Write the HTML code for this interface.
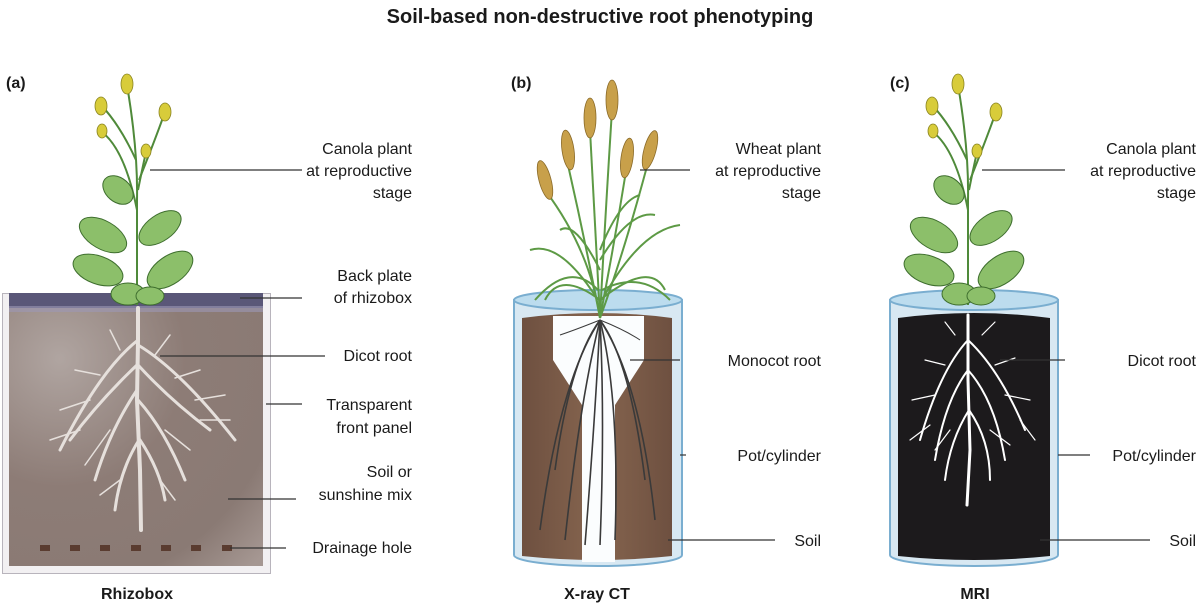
<!DOCTYPE html>
<html><head><meta charset="utf-8"><style>
body{margin:0;background:#fff;}
svg{display:block;font-family:"Liberation Sans",Arial,sans-serif;}
.t{font-size:16px;fill:#1a1a1a;text-anchor:end;}
.b{font-size:16px;font-weight:bold;fill:#1a1a1a;text-anchor:middle;}
.l{stroke:#333;stroke-width:1.2;fill:none;}
</style></head><body>
<svg width="1200" height="606" viewBox="0 0 1200 606">
<defs>
<radialGradient id="soilA" cx="0.2" cy="0.2" r="1.1">
  <stop offset="0" stop-color="#b0a5a1"/><stop offset="0.45" stop-color="#8d7c76"/><stop offset="0.8" stop-color="#8a7a74"/><stop offset="1" stop-color="#a59792"/>
</radialGradient>
<linearGradient id="soilB" x1="0" x2="1">
  <stop offset="0" stop-color="#6e5040"/><stop offset="0.5" stop-color="#86654f"/><stop offset="1" stop-color="#6e5040"/>
</linearGradient>
<g id="canola">
  <g stroke="#4f8a3a" stroke-width="2" fill="none">
    <path d="M137 305 L137 200 Q138 150 127 85"/>
    <path d="M137 210 Q125 150 102 132"/>
    <path d="M136 160 Q120 125 101 105"/>
    <path d="M139 180 Q155 140 165 112"/>
    <path d="M138 190 Q142 170 146 152"/>
  </g>
  <g fill="#8cbf6a" stroke="#3e6e2e" stroke-width="1">
    <ellipse cx="118" cy="190" rx="17" ry="12" transform="rotate(40 118 190)"/>
    <ellipse cx="103" cy="235" rx="26" ry="14" transform="rotate(30 103 235)"/>
    <ellipse cx="160" cy="228" rx="24" ry="13" transform="rotate(-35 160 228)"/>
    <ellipse cx="98" cy="270" rx="26" ry="14" transform="rotate(20 98 270)"/>
    <ellipse cx="170" cy="270" rx="26" ry="14" transform="rotate(-35 170 270)"/>
    <ellipse cx="128" cy="294" rx="17" ry="11"/>
    <ellipse cx="150" cy="296" rx="14" ry="9"/>
  </g>
  <g fill="#d8cc3a" stroke="#8a8420" stroke-width="0.8">
    <ellipse cx="127" cy="84" rx="6" ry="10"/>
    <ellipse cx="101" cy="106" rx="6" ry="9"/>
    <ellipse cx="165" cy="112" rx="6" ry="9"/>
    <ellipse cx="102" cy="131" rx="5" ry="7"/>
    <ellipse cx="146" cy="151" rx="5" ry="7"/>
  </g>
</g>
</defs>

<text x="600" y="23" class="b" style="font-size:20px">Soil-based non-destructive root phenotyping</text>
<text x="6" y="88" font-size="16" font-weight="bold" fill="#1a1a1a">(a)</text>
<text x="511" y="88" font-size="16" font-weight="bold" fill="#1a1a1a">(b)</text>
<text x="890" y="88" font-size="16" font-weight="bold" fill="#1a1a1a">(c)</text>

<!-- (a) Rhizobox -->
<rect x="2.5" y="293.5" width="268" height="280" fill="#f2f0f2" stroke="#b8b4bc"/>
<rect x="9" y="307" width="254" height="259" fill="url(#soilA)"/>
<rect x="9" y="293" width="254" height="15" fill="#5a5778"/>
<rect x="9" y="306" width="254" height="6" fill="#9c98b5" opacity="0.6"/>
<g fill="#5a3c30">
<rect x="40" y="545" width="10" height="6"/><rect x="70" y="545" width="10" height="6"/><rect x="100" y="545" width="10" height="6"/><rect x="131" y="545" width="10" height="6"/><rect x="161" y="545" width="10" height="6"/><rect x="191" y="545" width="10" height="6"/><rect x="222" y="545" width="10" height="6"/>
</g>
<g stroke="#e6e0dc" fill="none" stroke-linecap="round">
  <path d="M138 308 L138 340 L137 400 L140 470 L141 530" stroke-width="4"/>
  <g stroke-width="3">
  <path d="M138 340 Q100 370 60 450"/><path d="M138 345 Q180 370 235 440"/>
  <path d="M137 365 Q100 400 70 440"/><path d="M138 365 Q170 400 210 430"/>
  <path d="M137 390 Q110 430 95 480"/><path d="M138 400 Q165 430 185 480"/>
  <path d="M139 440 Q120 470 115 510"/><path d="M140 440 Q160 470 165 500"/>
  </g>
  <g stroke-width="1.5">
  <path d="M100 375 L75 370"/><path d="M90 400 L60 410"/><path d="M175 378 L200 370"/><path d="M195 400 L225 395"/>
  <path d="M80 430 L50 440"/><path d="M200 420 L230 420"/><path d="M110 430 L85 465"/><path d="M165 430 L190 450"/>
  <path d="M120 350 L110 330"/><path d="M155 355 L170 335"/><path d="M120 480 L100 495"/><path d="M160 480 L175 500"/>
  </g>
</g>
<use href="#canola"/>

<path class="l" d="M150 170 H302"/>
<text class="t" x="412" y="154">Canola plant</text>
<text class="t" x="412" y="176">at reproductive</text>
<text class="t" x="412" y="198">stage</text>
<path class="l" d="M240 298 H302"/>
<text class="t" x="412" y="281">Back plate</text>
<text class="t" x="412" y="303">of rhizobox</text>
<path class="l" d="M160 356 H325"/>
<text class="t" x="412" y="361">Dicot root</text>
<path class="l" d="M266 404 H302"/>
<text class="t" x="412" y="410">Transparent</text>
<text class="t" x="412" y="433">front panel</text>
<path class="l" d="M228 499 H296"/>
<text class="t" x="412" y="477">Soil or</text>
<text class="t" x="412" y="500">sunshine mix</text>
<path class="l" d="M230 548 H286"/>
<text class="t" x="412" y="553">Drainage hole</text>
<text class="b" x="137" y="599">Rhizobox</text>

<!-- (b) X-ray CT -->
<path d="M514 300 L514 555 A84 11 0 0 0 682 555 L682 300 Z" fill="#d8e8f2" stroke="#7aaed0" stroke-width="2"/>
<ellipse cx="598" cy="300" rx="84" ry="10" fill="#bcdcee" stroke="#7aaed0" stroke-width="2"/>
<path d="M522 318 Q598 308 672 318 L672 556 Q598 564 522 556 Z" fill="url(#soilB)"/>
<path d="M553 316 L644 316 L644 360 L615 405 L615 562 L582 562 L582 405 L553 360 Z" fill="#fbfdfe"/>
<g stroke="#3a3a3a" fill="none" stroke-width="1.6">
  <path d="M600 320 Q560 380 540 530"/><path d="M600 320 Q580 400 565 540"/><path d="M600 320 Q595 420 585 545"/>
  <path d="M600 320 Q605 420 600 545"/><path d="M600 320 Q620 400 615 540"/><path d="M600 320 Q640 380 655 520"/>
  <path d="M600 320 Q630 360 645 480"/><path d="M600 320 Q570 360 555 470"/>
  <path d="M600 320 Q575 330 560 335" stroke-width="1"/><path d="M600 320 Q625 330 640 340" stroke-width="1"/>
</g>
<g stroke="#5d9a45" stroke-width="2" fill="none">
  <path d="M600 318 Q590 250 545 190"/><path d="M600 318 Q585 240 568 165"/><path d="M600 318 Q595 220 590 130"/>
  <path d="M600 318 Q605 220 612 110"/><path d="M600 318 Q615 240 627 165"/><path d="M600 318 Q625 250 650 155"/>
  <path d="M598 300 Q560 240 530 250"/><path d="M602 300 Q640 230 680 225"/><path d="M598 290 Q570 260 535 300"/>
  <path d="M602 290 Q640 270 670 300"/><path d="M600 270 Q575 220 560 230"/><path d="M600 260 Q630 210 655 215"/>
  <path d="M600 300 Q560 270 545 300"/><path d="M600 300 Q650 260 665 290"/><path d="M600 250 Q620 200 640 195"/>
</g>
<g fill="#c8a04a" stroke="#8a6a28" stroke-width="0.8">
  <ellipse cx="545" cy="180" rx="6" ry="20" transform="rotate(-15 545 180)"/>
  <ellipse cx="568" cy="150" rx="6" ry="20" transform="rotate(-8 568 150)"/>
  <ellipse cx="590" cy="118" rx="6" ry="20"/>
  <ellipse cx="612" cy="100" rx="6" ry="20"/>
  <ellipse cx="627" cy="158" rx="6" ry="20" transform="rotate(8 627 158)"/>
  <ellipse cx="650" cy="150" rx="6" ry="20" transform="rotate(15 650 150)"/>
</g>
<path class="l" d="M640 170 H690"/>
<text class="t" x="821" y="154">Wheat plant</text>
<text class="t" x="821" y="176">at reproductive</text>
<text class="t" x="821" y="198">stage</text>
<path class="l" d="M630 360 H680"/>
<text class="t" x="821" y="366">Monocot root</text>
<path class="l" d="M680 455 H686"/>
<text class="t" x="821" y="461">Pot/cylinder</text>
<path class="l" d="M668 540 H775"/>
<text class="t" x="821" y="546">Soil</text>
<text class="b" x="597" y="599">X-ray CT</text>

<!-- (c) MRI -->
<path d="M890 300 L890 555 A84 11 0 0 0 1058 555 L1058 300 Z" fill="#d8e8f2" stroke="#7aaed0" stroke-width="2"/>
<ellipse cx="974" cy="300" rx="84" ry="10" fill="#bcdcee" stroke="#7aaed0" stroke-width="2"/>
<path d="M898 318 Q974 308 1050 318 L1050 556 Q974 564 898 556 Z" fill="#1c1a1c"/>
<g stroke="#fff" fill="none" stroke-linecap="round">
  <path d="M968 315 L968 380 L970 450 L967 505" stroke-width="3"/>
  <g stroke-width="2">
  <path d="M968 340 Q940 370 920 440"/><path d="M968 340 Q1000 370 1025 430"/>
  <path d="M968 370 Q945 400 935 460"/><path d="M968 370 Q995 400 1005 460"/>
  <path d="M969 410 Q950 440 945 480"/><path d="M969 410 Q990 440 990 480"/>
  </g>
  <g stroke-width="1.2">
  <path d="M945 365 L925 360"/><path d="M935 395 L912 400"/><path d="M995 365 L1015 358"/><path d="M1005 395 L1030 400"/>
  <path d="M930 425 L910 440"/><path d="M1020 420 L1035 440"/><path d="M950 430 L935 450"/><path d="M990 430 L1010 445"/>
  <path d="M955 335 L945 322"/><path d="M982 335 L995 322"/>
  </g>
</g>
<use href="#canola" transform="translate(831 0)"/>
<path class="l" d="M982 170 H1065"/>
<text class="t" x="1196" y="154">Canola plant</text>
<text class="t" x="1196" y="176">at reproductive</text>
<text class="t" x="1196" y="198">stage</text>
<path class="l" d="M1000 360 H1065"/>
<text class="t" x="1196" y="366">Dicot root</text>
<path class="l" d="M1058 455 H1090"/>
<text class="t" x="1196" y="461">Pot/cylinder</text>
<path class="l" d="M1040 540 H1150"/>
<text class="t" x="1196" y="546">Soil</text>
<text class="b" x="975" y="599">MRI</text>
</svg>
</body></html>
